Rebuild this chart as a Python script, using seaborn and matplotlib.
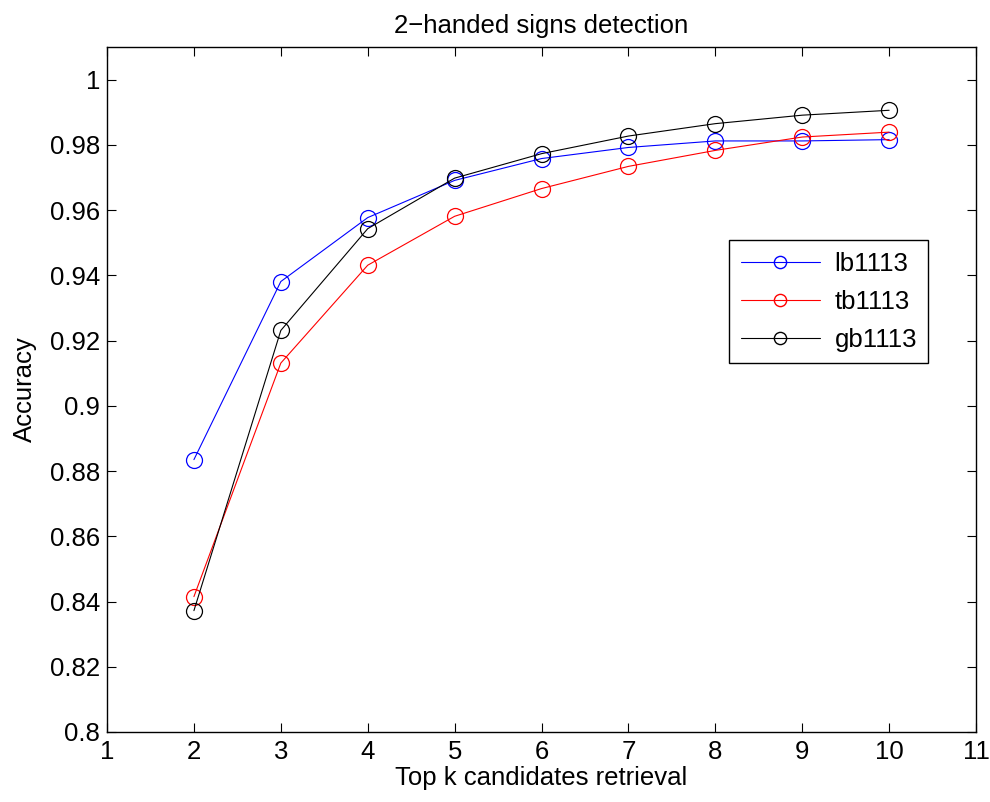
import numpy as np
import pandas as pd
import matplotlib
matplotlib.use("Agg")
import matplotlib.pyplot as plt
import seaborn as sns
from matplotlib.lines import Line2D

k = [2, 3, 4, 5, 6, 7, 8, 9, 10]
lb1113 = [0.8835, 0.9381, 0.9577, 0.9691, 0.9758, 0.9792, 0.9812, 0.9812, 0.9816]
tb1113 = [0.8415, 0.9131, 0.9431, 0.9581, 0.9666, 0.9734, 0.9783, 0.9824, 0.9839]
gb1113 = [0.8372, 0.9231, 0.9543, 0.9698, 0.9773, 0.9827, 0.9865, 0.9891, 0.9906]
names = ['lb1113', 'tb1113', 'gb1113']
colors = ['#0000ff', '#ff0000', '#000000']
yticks = [0.8, 0.82, 0.84, 0.86, 0.88, 0.9, 0.92, 0.94, 0.96, 0.98, 1.0]
ylabels = ['0.8', '0.82', '0.84', '0.86', '0.88', '0.9', '0.92', '0.94', '0.96', '0.98', '1']

df = pd.DataFrame({'k': k * 3,
                   'acc': lb1113 + tb1113 + gb1113,
                   'method': np.repeat(names, len(k))})

sns.set_style('ticks')
plt.rcParams['font.family'] = ['Liberation Sans', 'DejaVu Sans']
plt.rcParams['text.color'] = 'black'
plt.rcParams['axes.labelcolor'] = 'black'
fs = 18.5

fig = plt.figure(figsize=(9.9, 8.02), dpi=100)
ax = fig.add_axes([0.1081, 0.0873, 0.8778, 0.8541])
sns.lineplot(data=df, x='k', y='acc', hue='method', palette=colors,
             marker='o', markersize=11.5, markerfacecolor='none',
             linewidth=0.8, ax=ax, legend=False)
for line, c in zip(ax.lines, colors):
    line.set_markeredgecolor(c)
    line.set_markeredgewidth(0.9)

ax.set_xlim(1, 11)
ax.set_ylim(0.8, 1.01)
ax.set_xticks(range(1, 12))
ax.set_yticks(yticks)
ax.set_yticklabels(ylabels)
ax.tick_params(direction='in', top=True, right=True, labelsize=fs,
               length=6.5, width=0.8, colors='black')
ax.tick_params(axis='x', pad=6)
ax.tick_params(axis='y', pad=5)
for s in ax.spines.values():
    s.set_visible(True)
    s.set_color('black')
    s.set_linewidth(1.0)
ax.set_xlabel('Top k candidates retrieval', fontsize=fs, labelpad=1, color='black')
ax.set_ylabel('Accuracy', fontsize=fs, labelpad=9, color='black')
ax.set_title('2\u2212handed signs detection', fontsize=fs, pad=10, color='black')

handles = [Line2D([], [], color=c, marker='o', markersize=8.8,
                  markerfacecolor='none', linewidth=0.8) for c in colors]
leg = ax.legend(handles, names, loc='upper left', bbox_to_anchor=(0.7158, 0.7182),
                borderaxespad=0, fontsize=fs, frameon=True, fancybox=False,
                edgecolor='black', handlelength=3.1, handletextpad=0.55,
                labelspacing=0.55, borderpad=0.45, framealpha=1)
leg.get_frame().set_linewidth(1.0)
for t in leg.get_texts():
    t.set_color('black')

fig.savefig('out.png', dpi=100)
